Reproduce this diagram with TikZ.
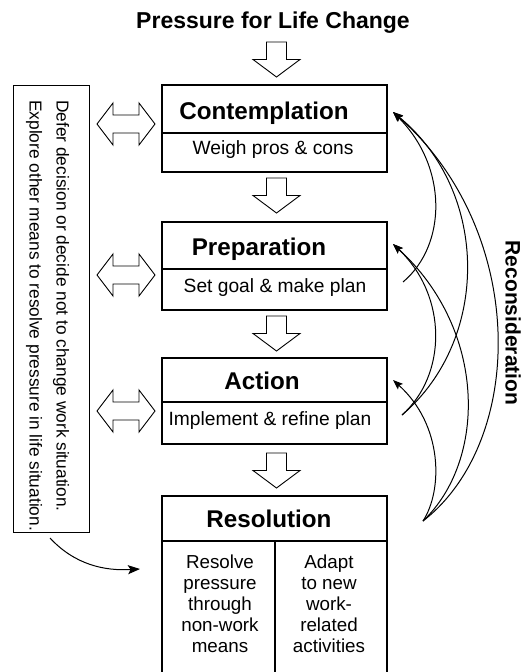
\documentclass[tikz,border=0pt]{standalone}
\usepackage{fontspec}
\setmainfont{Liberation Sans}
\usetikzlibrary{arrows.meta}

\tikzset{
  stagebox/.style={draw, line width=1.6pt, minimum width=225pt, inner sep=0pt},
  divider/.style={line width=1.4pt},
  heading/.style={font=\fontsize{24.2}{27}\selectfont\bfseries, inner sep=0pt},
  subtext/.style={font=\fontsize{19.2}{21}\selectfont, inner sep=0pt},
  coltext/.style={font=\fontsize{18.8}{20.8}\selectfont, align=center, inner sep=0pt},
  sidetext/.style={font=\fontsize{17.3}{27}\selectfont, align=left, inner sep=0pt, rotate=-90},
  blockarrow/.style={draw, line width=0.9pt, fill=white, line join=miter},
  backarc/.style={line width=1pt, -{Stealth[length=10pt,width=7.5pt,inset=2pt]}},
  downarrow/.pic={
    \draw[blockarrow] (-10,0) -- (10,0) -- (10,17.5) -- (23.5,17.5) -- (0,35)
      -- (-23.5,17.5) -- (-10,17.5) -- cycle;
  },
  bothways/.pic={
    \draw[blockarrow] (-29,0) -- (-13,-21) -- (-13,-9) -- (13,-9) -- (13,-21)
      -- (29,0) -- (13,21) -- (13,9) -- (-13,9) -- (-13,21) -- cycle;
  }
}

\begin{document}
\begin{tikzpicture}[x=1pt,y=-1pt]
\clip (0,0) rectangle (525,672);
\fill[white] (0,0) rectangle (525,672);

% heading
\node[font=\fontsize{23}{26}\selectfont\bfseries, inner sep=0pt, anchor=base]
  (pressure) at (273,28) {Pressure for Life Change};

% downward block arrows between the stages
\pic at (276.5,42)  {downarrow};
\pic at (276.5,178) {downarrow};
\pic at (276.5,316) {downarrow};
\pic at (276.5,453) {downarrow};

% stage boxes
\node[stagebox, minimum height=87pt] (cont) at (274.5,128.5) {};
\draw[divider] (cont.west |- 0,133) -- (cont.east |- 0,133);
\node[heading, anchor=base] (contT) at (264,119) {Contemplation};
\node[subtext, anchor=base] (contS) at (273,154) {Weigh pros \& cons};

\node[stagebox, minimum height=88pt] (prep) at (274.5,266) {};
\draw[divider] (prep.west |- 0,269) -- (prep.east |- 0,269);
\node[heading, anchor=base] (prepT) at (259,255) {Preparation};
\node[subtext, anchor=base] (prepS) at (275,292) {Set goal \& make plan};

\node[stagebox, minimum height=86pt] (act) at (274.5,401) {};
\draw[divider] (act.west |- 0,402) -- (act.east |- 0,402);
\node[heading, anchor=base] (actT) at (262,389) {Action};
\node[subtext, anchor=base] (actS) at (270,425) {Implement \& refine plan};

\node[stagebox, minimum height=194pt] (res) at (274.5,593) {};
\draw[divider] (res.west |- 0,541) -- (res.east |- 0,541);
\draw[divider] (275,541) -- (res.south -| 275,0);
\node[heading, anchor=base] (resT) at (269,527) {Resolution};
\node[coltext, anchor=north] (resL) at (220,555)
  {Resolve\\pressure\\through\\non-work\\means};
\node[coltext, anchor=north] (resR) at (329,555)
  {Adapt\\to new\\work-\\related\\activities};

% side alternative
\node[draw, line width=0.9pt, minimum width=76pt, minimum height=447pt, inner sep=0pt]
  (alt) at (51,308.5) {};
\node[sidetext, anchor=west] (altT) at (47.5,100)
  {Defer decision or decide not to change work situation.\\
   Explore other means to resolve pressure in life situation.};
\pic at (126,124) {bothways};
\pic at (126,275) {bothways};
\pic at (126,411) {bothways};

\coordinate (altOut) at (50,538);
\coordinate (resIn) at (140,569);
\draw[backarc, -{Stealth[length=12pt,width=9pt,inset=2.5pt]}]
  (altOut) .. controls (75,565) and (105,571) .. (resIn);

% reconsideration loops
\coordinate (contIn) at (393,112);
\coordinate (prepIn) at (393,244);
\coordinate (actIn)  at (393,380);
\coordinate (prepOut) at (403,282);
\coordinate (actOut)  at (402,415);
\coordinate (resOut)  at (423,521);

\draw[backarc] (prepOut) .. controls (447,245) and (448,167) .. (contIn);
\draw[backarc] (actOut)  .. controls (490,340) and (490,192) .. (contIn);
\draw[backarc] (resOut)  .. controls (527,440) and (527,230) .. (contIn);
\draw[backarc] (actOut)  .. controls (447,375) and (448,296) .. (prepIn);
\draw[backarc] (resOut)  .. controls (487,460) and (487,330) .. (prepIn);
\draw[backarc] (resOut)  .. controls (443,490) and (443,425) .. (actIn);

\node[font=\fontsize{21}{24}\selectfont\bfseries, inner sep=0pt, rotate=-90]
  (recon) at (513,323) {Reconsideration};
\end{tikzpicture}
\end{document}
